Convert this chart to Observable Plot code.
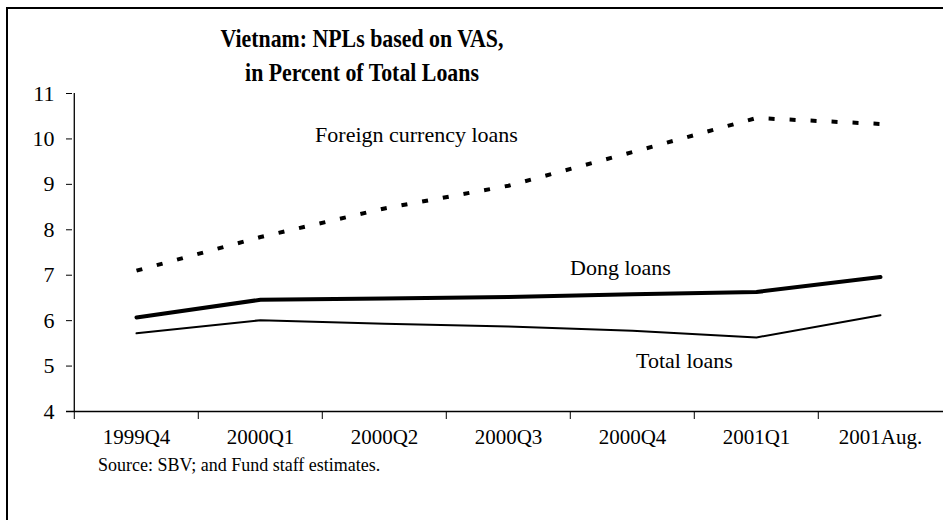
<!DOCTYPE html>
<html>
<head>
<meta charset="utf-8">
<script src="https://cdn.jsdelivr.net/npm/d3@7"></script>
<script src="https://cdn.jsdelivr.net/npm/@observablehq/plot@0.6"></script>
<style>
  body { margin: 0; background: #fff; }
  #wrap { position: relative; width: 943px; height: 520px; overflow: hidden;
          font-family: "Liberation Serif", "Times New Roman", serif; color: #000; background: #fff; }
  #wrap svg, #wrap svg * { font-family: "Liberation Serif", "Times New Roman", serif !important; }
  #chart { position: absolute; left: 0; top: 0; }
  #border { position: absolute; left: 6px; top: 7px; right: -10px; bottom: -10px;
            border-left: 2px solid #000; border-top: 2px solid #000; pointer-events: none; }
  #title { position: absolute; left: 362px; top: 22px; transform: translateX(-50%) scaleX(0.84);
           font-weight: bold; font-size: 26px; line-height: 34px; text-align: center; white-space: nowrap; }
  #source { position: absolute; left: 98px; top: 455px; font-size: 18px; white-space: nowrap; }
</style>
</head>
<body>
<div id="wrap">
  <div id="chart"></div>
  <div id="border"></div>
  <div id="title">Vietnam: NPLs based on VAS,<br>in Percent of Total Loans</div>
  <div id="source">Source: SBV; and Fund staff estimates.</div>
</div>
<script>
const categories = ["1999Q4", "2000Q1", "2000Q2", "2000Q3", "2000Q4", "2001Q1", "2001Aug."];
const foreignLoans = [7.10, 7.84, 8.47, 8.97, 9.71, 10.46, 10.33];
const dongLoans    = [6.07, 6.46, 6.49, 6.52, 6.58, 6.63, 6.96];
const totalLoans   = [5.72, 6.01, 5.93, 5.87, 5.78, 5.63, 6.12];
const yTicks = [4, 5, 6, 7, 8, 9, 10, 11];
const labelTexts = ["Foreign currency loans", "Dong loans", "Total loans"];
const labelCats = ["2000Q2", "2000Q4", "2000Q4"];
const labelValues = [10.08, 7.17, 5.12];

const toRows = (vals) => categories.map((c, i) => ({cat: c, value: vals[i]}));

const W = 943, H = 520, ML = 72, MR = 0, MT = 93, MB = 109;
const step = (W - ML - MR) / categories.length;
const serif = '"Liberation Serif", "Times New Roman", serif';

const plot = Plot.plot({
  width: W, height: H,
  marginLeft: ML, marginRight: MR, marginTop: MT, marginBottom: MB,
  style: {fontFamily: serif, fontSize: "21px", color: "#000", background: "transparent"},
  x: {type: "band", domain: categories, padding: 0, label: null},
  y: {domain: [4, 11], label: null},
  marks: [
    Plot.ruleY([4], {stroke: "#000", strokeWidth: 1.3, insetLeft: -6}),
    Plot.ruleX([categories[0]], {dx: -step / 2, y1: 4, y2: 11, stroke: "#000", strokeWidth: 1.3}),
    Plot.axisY({ticks: yTicks, tickSize: 6, tickPadding: 12, tickFormat: d => String(d), label: null, fontSize: 22, fontFamily: serif}),
    Plot.axisX({tickSize: 0, tickPadding: 18, label: null, fontSize: 21, fontFamily: serif}),
    Plot.axisX({tickSize: 8, tickFormat: () => "", dx: -step / 2, label: null}),
    Plot.line(toRows(foreignLoans), {x: "cat", y: "value", stroke: "#000", strokeWidth: 4, strokeDasharray: "6,15", strokeLinecap: "butt"}),
    Plot.line(toRows(dongLoans), {x: "cat", y: "value", stroke: "#000", strokeWidth: 4}),
    Plot.line(toRows(totalLoans), {x: "cat", y: "value", stroke: "#000", strokeWidth: 2}),
    Plot.text([labelTexts[0]], {x: [labelCats[0]], y: [labelValues[0]], text: d => d, dx: 32, fontSize: 22, fontFamily: serif, fill: "#000"}),
    Plot.text([labelTexts[1]], {x: [labelCats[1]], y: [labelValues[1]], text: d => d, dx: -12, fontSize: 22, fontFamily: serif, fill: "#000"}),
    Plot.text([labelTexts[2]], {x: [labelCats[2]], y: [labelValues[2]], text: d => d, dx: 52, fontSize: 22, fontFamily: serif, fill: "#000"})
  ]
});
document.getElementById("chart").appendChild(plot);
</script>
</body>
</html>
